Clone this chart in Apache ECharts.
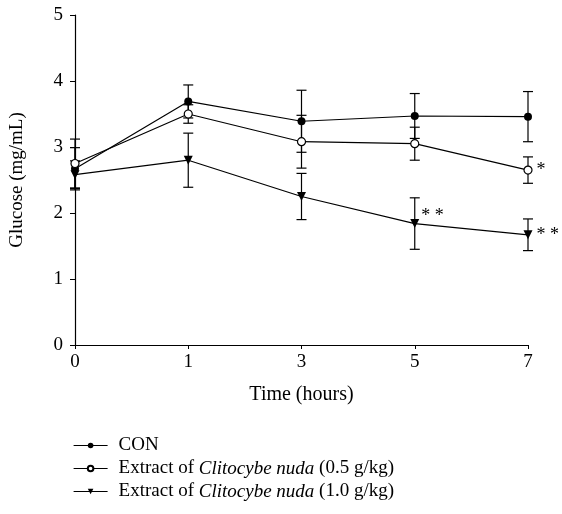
<!DOCTYPE html>
<html>
<head>
<meta charset="utf-8">
<script src="https://cdn.jsdelivr.net/npm/echarts@6/dist/echarts.min.js"></script>
<style>
  html, body { margin: 0; padding: 0; background: #fff; }
  #chart-container { width: 562px; height: 514px; }
</style>
</head>
<body>
<div id="chart-container"></div>
<script>
// time points (hours)
var hours = ["0", "1", "3", "5", "7"];

// mean glucose (mg/mL)
var conMean = [2.67, 3.69, 3.39, 3.47, 3.46];
var lowMean = [2.75, 3.50, 3.08, 3.05, 2.65];
var highMean = [2.58, 2.80, 2.25, 1.84, 1.67];

// error (half bar length)
var conErr = [0.32, 0.25, 0.47, 0.34, 0.38];
var lowErr = [0.37, 0.14, 0.40, 0.25, 0.20];
var highErr = [0.21, 0.41, 0.35, 0.39, 0.24];

// significance marks
var lowStars = ["", "", "", "", "*"];
var highStars = ["", "", "", "**", "**"];

var seriesNames = [
  "CON",
  "Extract of Clitocybe nuda (0.5 g/kg)",
  "Extract of Clitocybe nuda (1.0 g/kg)"
];

var fontFam = "Liberation Serif";

function errData(mean, err) {
  return mean.map(function (m, i) {
    return [i, m - err[i], m + err[i]];
  });
}

function renderErr(params, api) {
  var x = api.value(0);
  var lo = api.coord([x, api.value(1)]);
  var hi = api.coord([x, api.value(2)]);
  var w = 5;
  var st = { stroke: "#000", lineWidth: 1.2 };
  return {
    type: "group",
    children: [
      { type: "line", shape: { x1: hi[0], y1: hi[1], x2: lo[0], y2: lo[1] }, style: st },
      { type: "line", shape: { x1: hi[0] - w, y1: hi[1], x2: hi[0] + w, y2: hi[1] }, style: st },
      { type: "line", shape: { x1: lo[0] - w, y1: lo[1], x2: lo[0] + w, y2: lo[1] }, style: st }
    ]
  };
}

function withStars(mean, stars) {
  return mean.map(function (v, i) {
    if (!stars[i]) return v;
    return {
      value: v,
      label: {
        show: true,
        formatter: stars[i].split("").join(" "),
        position: stars[i].length > 1 && i < 4 ? [11, -12] : "right",
        distance: 4,
        color: "#000",
        fontFamily: fontFam,
        fontSize: 18
      }
    };
  });
}

var dom = document.getElementById("chart-container");
var myChart = echarts.init(dom, null, { renderer: "canvas" });

var option = {
  animation: false,
  backgroundColor: "#fff",
  textStyle: { fontFamily: fontFam, color: "#000" },
  grid: { left: 68, right: 34, top: 15, bottom: 169 },
  legend: {
    orient: "vertical",
    left: 68,
    top: 431,
    itemWidth: 34,
    itemHeight: 7,
    itemGap: 4,
    data: seriesNames,
    lineStyle: { width: 1.2, color: "#000" },
    formatter: function (name) {
      return name.replace("Clitocybe nuda", "{i|Clitocybe nuda}");
    },
    textStyle: {
      fontFamily: fontFam,
      fontSize: 19,
      color: "#000",
      lineHeight: 19,
      padding: [0, 0, 0, 6],
      rich: {
        i: { fontFamily: fontFam, fontStyle: "italic", fontSize: 19, color: "#000" }
      }
    }
  },
  xAxis: {
    type: "category",
    data: hours,
    boundaryGap: false,
    name: "Time (hours)",
    nameLocation: "middle",
    nameGap: 40,
    nameTextStyle: { fontFamily: fontFam, fontSize: 20, color: "#000" },
    axisLine: { lineStyle: { color: "#000", width: 1.2 } },
    axisTick: { show: true, length: 4, lineStyle: { color: "#000" } },
    axisLabel: { fontFamily: fontFam, fontSize: 19, color: "#000", margin: 8 },
    splitLine: { show: false }
  },
  yAxis: {
    type: "value",
    min: 0,
    max: 5,
    interval: 1,
    name: "Glucose (mg/mL)",
    nameLocation: "middle",
    nameGap: 48,
    nameTextStyle: { fontFamily: fontFam, fontSize: 19, color: "#000" },
    axisLine: { show: true, lineStyle: { color: "#000", width: 1.2 } },
    axisTick: { show: true, length: 5, lineStyle: { color: "#000" } },
    axisLabel: { fontFamily: fontFam, fontSize: 19, color: "#000", margin: 12 },
    splitLine: { show: false }
  },
  series: [
    { type: "custom", renderItem: renderErr, data: errData(conMean, conErr), z: 1, silent: true },
    { type: "custom", renderItem: renderErr, data: errData(lowMean, lowErr), z: 1, silent: true },
    { type: "custom", renderItem: renderErr, data: errData(highMean, highErr), z: 1, silent: true },
    {
      name: seriesNames[0],
      type: "line",
      data: conMean,
      symbol: "circle",
      symbolSize: 8,
      itemStyle: { color: "#000" },
      lineStyle: { color: "#000", width: 1.2 },
      z: 3
    },
    {
      name: seriesNames[1],
      type: "line",
      data: withStars(lowMean, lowStars),
      symbol: "circle",
      symbolSize: 8,
      itemStyle: { color: "#fff", borderColor: "#000", borderWidth: 1.2 },
      lineStyle: { color: "#000", width: 1.2 },
      z: 3
    },
    {
      name: seriesNames[2],
      type: "line",
      data: withStars(highMean, highStars),
      symbol: "triangle",
      symbolRotate: 180,
      symbolSize: 9,
      itemStyle: { color: "#000" },
      lineStyle: { color: "#000", width: 1.2 },
      z: 3
    }
  ]
};

myChart.setOption(option);
window.addEventListener("resize", myChart.resize);
</script>
</body>
</html>
